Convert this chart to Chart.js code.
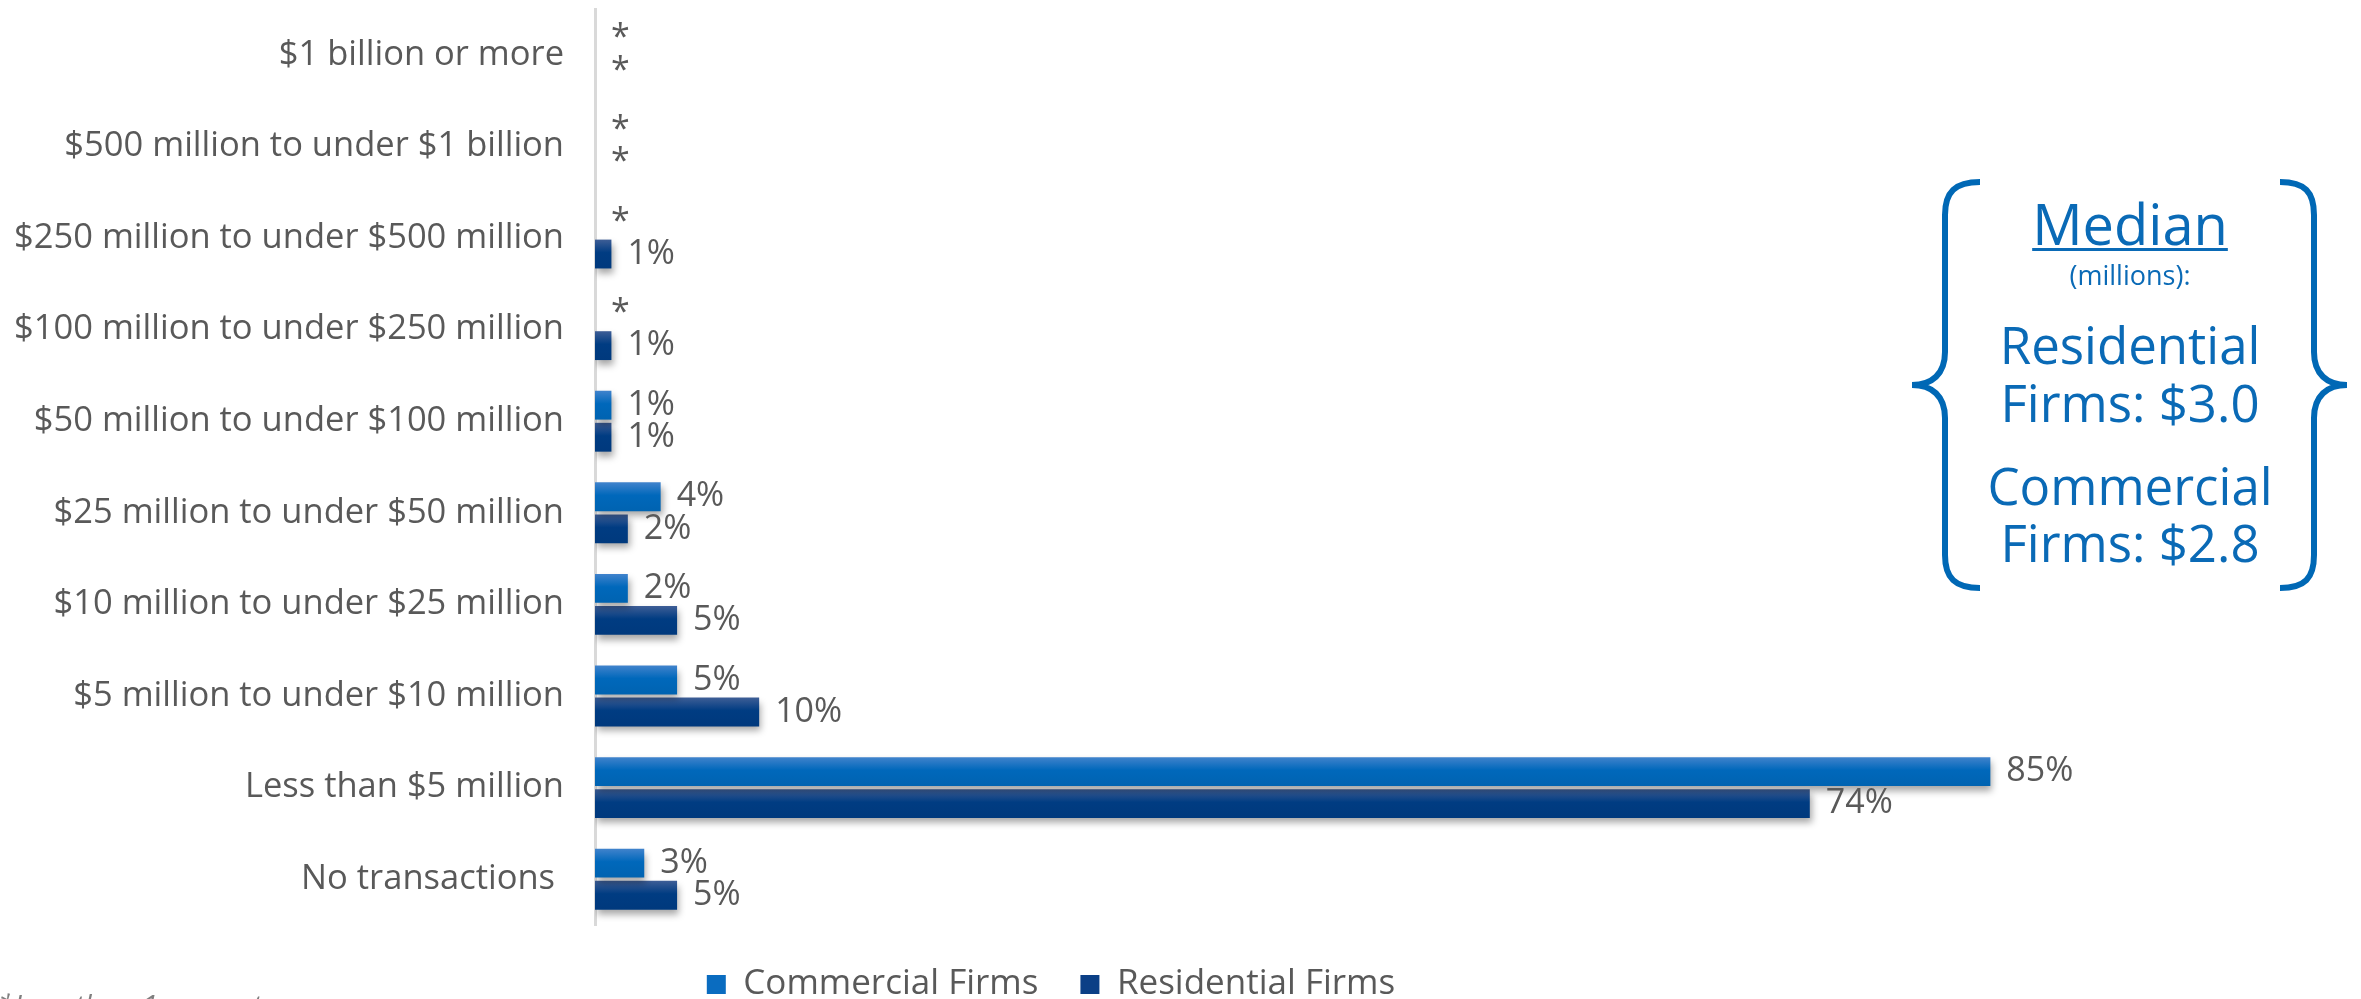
<!DOCTYPE html>
<html>
<head>
<meta charset="utf-8">
<script src="https://cdn.jsdelivr.net/npm/chart.js@4.4.1/dist/chart.umd.min.js"></script>
<style>
  html, body { margin: 0; padding: 0; background: #fff; overflow: hidden; }
  #wrap { position: relative; width: 2361px; height: 999px; overflow: hidden; }
  #chart { position: absolute; left: 0; top: 0; }
  #note { position: absolute; left: -2px; top: 990px; font: italic 29px "Open Sans", sans-serif; line-height: 29px; color: #7f7f7f; white-space: nowrap; }
</style>
</head>
<body>
<div id="wrap">
  <canvas id="chart" width="2361" height="1014"></canvas>
  <div id="note">*Less than 1 percent</div>
</div>
<script>
// data ("*" = less than 1 percent, drawn as 0)
const categories = [
  "$1 billion or more",
  "$500 million to under $1 billion",
  "$250 million to under $500 million",
  "$100 million to under $250 million",
  "$50 million to under $100 million",
  "$25 million to under $50 million",
  "$10 million to under $25 million",
  "$5 million to under $10 million",
  "Less than $5 million",
  "No transactions "
];
const commercialValues = [0, 0, 0, 0, 1, 4, 2, 5, 85, 3];
const residentialValues = [0, 0, 1, 1, 1, 2, 5, 10, 74, 5];
const seriesNames = ["Commercial Firms", "Residential Firms"];
const medianLines = ["Residential", "Firms: $3.0", "Commercial", "Firms: $2.8"];

const FONT = '"Open Sans", sans-serif';
const GREY = "#595959";
const BLUE = "#0a6ab6";
const CAT_PCT = 0.7;
const BAR_PCT = 0.9;

const valueLabel = (v) => (v === 0 ? "*" : v + "%");

// vertical gradient per bar, worked out from the category scale
const barFill = (top, mid, bottom, dsIndex) => (c) => {
  const chart = c.chart;
  const y = chart.scales.y;
  if (!y || c.dataIndex === undefined || !isFinite(y.bottom)) return mid;
  const cat = y.getPixelForValue(c.dataIndex);
  const size = (y.bottom - y.top) / categories.length;
  const group = size * CAT_PCT;
  const bar = (group / 2) * BAR_PCT;
  const center = cat - group / 4 + dsIndex * (group / 2);
  const g = chart.ctx.createLinearGradient(0, center - bar / 2, 0, center + bar / 2);
  g.addColorStop(0, top);
  g.addColorStop(0.45, mid);
  g.addColorStop(1, bottom);
  return g;
};

const shadowPlugin = {
  id: "shadow",
  beforeDatasetsDraw(chart) {
    const ctx = chart.ctx;
    ctx.save();
    ctx.shadowColor = "rgba(0,0,0,0.35)";
    ctx.shadowBlur = 7;
    ctx.shadowOffsetX = 2;
    ctx.shadowOffsetY = 5;
  },
  afterDatasetsDraw(chart) {
    chart.ctx.restore();
  }
};

const labelPlugin = {
  id: "valueLabels",
  afterDatasetsDraw(chart) {
    const ctx = chart.ctx;
    ctx.save();
    ctx.font = "34px " + FONT;
    ctx.fillStyle = GREY;
    ctx.textAlign = "left";
    ctx.textBaseline = "middle";
    chart.data.datasets.forEach((ds, i) => {
      chart.getDatasetMeta(i).data.forEach((el, j) => {
        ctx.fillText(valueLabel(ds.data[j]), el.x + 16, el.y);
      });
    });
    ctx.restore();
  }
};

const medianPlugin = {
  id: "median",
  afterDraw(chart) {
    const ctx = chart.ctx;
    const cx = 2130;
    ctx.save();
    ctx.fillStyle = BLUE;
    ctx.strokeStyle = "#0068b5";
    ctx.textAlign = "center";
    ctx.textBaseline = "alphabetic";

    ctx.font = "56px " + FONT;
    ctx.fillText("Median", cx, 245);
    const w = ctx.measureText("Median").width;
    ctx.fillRect(cx - w / 2, 248, w, 3);

    ctx.font = "27px " + FONT;
    ctx.fillText("(millions):", cx, 285);

    ctx.font = "51px " + FONT;
    const ys = [364, 422, 505, 562];
    medianLines.forEach((t, i) => ctx.fillText(t, cx, ys[i]));

    // braces
    ctx.lineWidth = 6;
    ctx.lineCap = "butt";
    ctx.beginPath();
    ctx.moveTo(1980, 182);
    ctx.bezierCurveTo(1955, 182, 1945, 192, 1945, 215);
    ctx.lineTo(1945, 352);
    ctx.bezierCurveTo(1945, 374, 1932, 385, 1912, 385);
    ctx.bezierCurveTo(1932, 385, 1945, 396, 1945, 418);
    ctx.lineTo(1945, 555);
    ctx.bezierCurveTo(1945, 578, 1955, 588, 1980, 588);
    ctx.moveTo(2280, 182);
    ctx.bezierCurveTo(2305, 182, 2314, 192, 2314, 215);
    ctx.lineTo(2314, 352);
    ctx.bezierCurveTo(2314, 374, 2327, 385, 2347, 385);
    ctx.bezierCurveTo(2327, 385, 2314, 396, 2314, 418);
    ctx.lineTo(2314, 555);
    ctx.bezierCurveTo(2314, 578, 2305, 588, 2280, 588);
    ctx.stroke();
    ctx.restore();
  }
};

const legendColors = ["#0a6cc0", "#0b3f86"];

new Chart(document.getElementById("chart").getContext("2d"), {
  type: "bar",
  data: {
    labels: categories,
    datasets: [
      {
        label: seriesNames[0],
        data: commercialValues,
        backgroundColor: barFill("#4183cc", "#0068bb", "#0063b1", 0),
        categoryPercentage: CAT_PCT,
        barPercentage: BAR_PCT
      },
      {
        label: seriesNames[1],
        data: residentialValues,
        backgroundColor: barFill("#3e5e96", "#003c82", "#00397d", 1),
        categoryPercentage: CAT_PCT,
        barPercentage: BAR_PCT
      }
    ]
  },
  options: {
    indexAxis: "y",
    responsive: false,
    animation: false,
    layout: { padding: { top: 9, right: 259, left: 0, bottom: 2 } },
    scales: {
      x: { display: false, min: 0, max: 91.8 },
      y: {
        grid: { display: false },
        border: { color: "#d9d9d9", width: 3 },
        ticks: { font: { family: FONT, size: 34.5 }, color: GREY, padding: 23 },
        afterFit: (s) => {
          s.width = 595;
          s.paddingTop = 0;
          s.paddingBottom = 0;
        }
      }
    },
    plugins: {
      tooltip: { enabled: false },
      legend: {
        position: "bottom",
        labels: {
          font: { family: FONT, size: 35 },
          color: GREY,
          boxWidth: 19,
          boxHeight: 19,
          padding: 42,
          generateLabels: (chart) => chart.data.datasets.map((ds, i) => ({
            text: ds.label,
            fillStyle: legendColors[i],
            strokeStyle: legendColors[i],
            lineWidth: 0,
            fontColor: GREY,
            datasetIndex: i,
            hidden: false
          }))
        }
      }
    }
  },
  plugins: [shadowPlugin, labelPlugin, medianPlugin]
});
</script>
</body>
</html>
